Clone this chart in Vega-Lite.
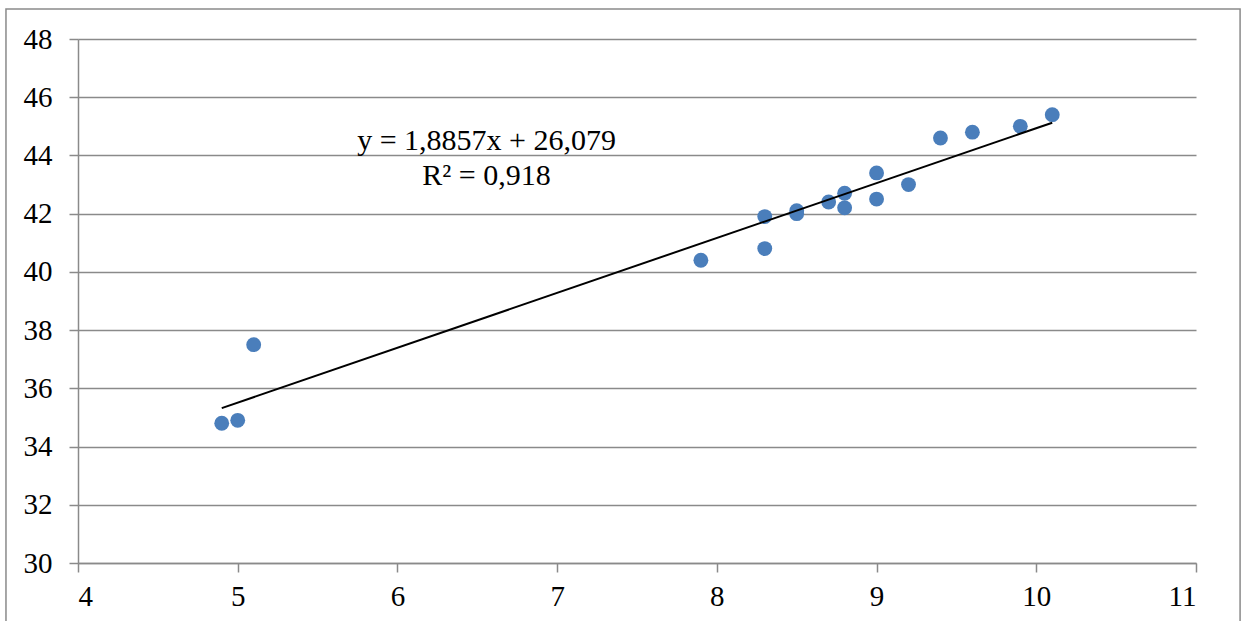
{
  "$schema": "https://vega.github.io/schema/vega-lite/v6.json",
  "width": 1118,
  "height": 524,
  "autosize": {"type": "none"},
  "padding": {"left": 78, "top": 39, "right": 47, "bottom": 58},
  "background": "white",
  "config": {
    "view": {"stroke": null},
    "font": "Liberation Serif",
    "axis": {
      "labelFont": "Liberation Serif",
      "labelFontSize": 29,
      "labelColor": "black",
      "domainColor": "#8a8a8a",
      "domainWidth": 1.5,
      "tickColor": "#8a8a8a",
      "tickWidth": 1.5,
      "gridColor": "#8a8a8a",
      "gridWidth": 1.5,
      "title": null
    }
  },
  "datasets": {
    "points": [
      {"x": 4.9, "y": 34.8},
      {"x": 5.0, "y": 34.9},
      {"x": 5.1, "y": 37.5},
      {"x": 7.9, "y": 40.4},
      {"x": 8.3, "y": 41.9},
      {"x": 8.3, "y": 40.8},
      {"x": 8.5, "y": 42.1},
      {"x": 8.5, "y": 42.0},
      {"x": 8.7, "y": 42.4},
      {"x": 8.8, "y": 42.7},
      {"x": 8.8, "y": 42.2},
      {"x": 9.0, "y": 43.4},
      {"x": 9.0, "y": 42.5},
      {"x": 9.2, "y": 43.0},
      {"x": 9.4, "y": 44.6},
      {"x": 9.6, "y": 44.8},
      {"x": 9.9, "y": 45.0},
      {"x": 10.1, "y": 45.4}
    ],
    "labels": [
      {"text": "y = 1,8857x + 26,079", "line": 1},
      {"text": "R² = 0,918", "line": 2}
    ],
    "single": [{"id": 1}]
  },
  "layer": [
    {
      "data": {"name": "single"},
      "mark": {"type": "rect", "fill": null, "stroke": "#8a8a8a", "strokeWidth": 1.5, "clip": false},
      "encoding": {
        "x": {"datum": 3.549, "type": "quantitative", "scale": {"domain": [4, 11], "nice": false, "zero": false}},
        "x2": {"datum": 11.276},
        "y": {"datum": 49.03, "type": "quantitative", "scale": {"domain": [30, 48], "nice": false, "zero": false}},
        "y2": {"datum": 27.0}
      }
    },
    {
      "data": {"name": "points"},
      "mark": {"type": "point", "filled": true, "opacity": 1, "size": 220, "color": "#4a7ebb"},
      "encoding": {
        "x": {
          "field": "x", "type": "quantitative",
          "scale": {"domain": [4, 11], "nice": false, "zero": false},
          "axis": {"values": [4, 5, 6, 7, 8, 9, 10, 11], "grid": false, "tickSize": 9, "labelPadding": 10, "format": "d", "labelFont": "Liberation Serif", "labelFontSize": 29}
        },
        "y": {
          "field": "y", "type": "quantitative",
          "scale": {"domain": [30, 48], "nice": false, "zero": false},
          "axis": {"values": [30, 32, 34, 36, 38, 40, 42, 44, 46, 48], "grid": true, "tickSize": 9, "labelPadding": 17, "format": "d", "labelFont": "Liberation Serif", "labelFontSize": 29}
        }
      }
    },
    {
      "data": {"name": "points"},
      "transform": [{"regression": "y", "on": "x"}],
      "mark": {"type": "line", "color": "black", "strokeWidth": 2},
      "encoding": {
        "x": {"field": "x", "type": "quantitative"},
        "y": {"field": "y", "type": "quantitative"}
      }
    },
    {
      "data": {"name": "labels"},
      "transform": [{"filter": "datum.line == 1"}],
      "mark": {"type": "text", "font": "Liberation Serif", "fontSize": 30, "color": "black", "align": "center", "baseline": "alphabetic"},
      "encoding": {
        "x": {"datum": 6.558, "type": "quantitative"},
        "y": {"datum": 44.19, "type": "quantitative"},
        "text": {"field": "text"}
      }
    },
    {
      "data": {"name": "labels"},
      "transform": [{"filter": "datum.line == 2"}],
      "mark": {"type": "text", "font": "Liberation Serif", "fontSize": 30, "color": "black", "align": "center", "baseline": "alphabetic"},
      "encoding": {
        "x": {"datum": 6.558, "type": "quantitative"},
        "y": {"datum": 42.98, "type": "quantitative"},
        "text": {"field": "text"}
      }
    }
  ]
}
